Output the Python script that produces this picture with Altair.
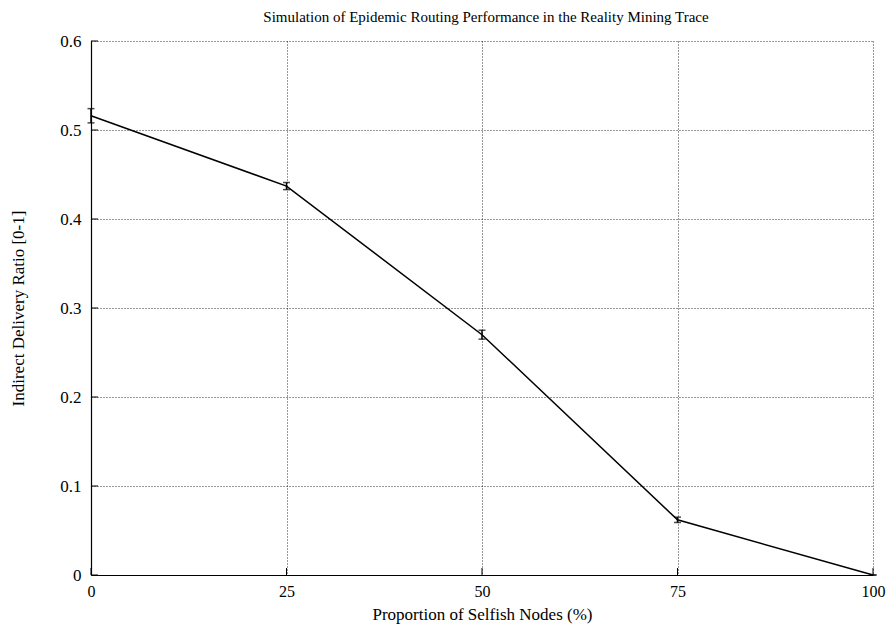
import altair as alt
import pandas as pd

selfish = [0, 25, 50, 75, 100]
ratio = [0.516, 0.437, 0.270, 0.062, 0.0]
err = [0.008, 0.004, 0.005, 0.003, 0.0]
title_text = ["Simulation of Epidemic Routing Performance in the Reality Mining Trace"]

df = pd.DataFrame({"x": selfish, "y": ratio, "e": err})
df["lo"] = df["y"] - df["e"]
df["hi"] = df["y"] + df["e"]

yticks = [0, 0.1, 0.2, 0.3, 0.4, 0.5, 0.6]
xticks = [0, 25, 50, 75, 100]

FONT = "Liberation Serif"
W, H = 782, 534

xs = alt.Scale(domain=[0, 100], nice=False)
ys = alt.Scale(domain=[0, 0.6], nice=False)

base = alt.Chart(df)

line = base.mark_line(color="black", strokeWidth=1.5).encode(
    x=alt.X("x:Q", scale=xs, axis=alt.Axis(
        values=xticks, title="Proportion of Selfish Nodes (%)", grid=True,
        gridDash=[1, 2], gridColor="#000", gridOpacity=0.8, ticks=False,
        labelPadding=8, titlePadding=7, domain=True, domainColor="black",
        domainWidth=1.2, labelFlush=False, labelFontSize=16)),
    y=alt.Y("y:Q", scale=ys, axis=alt.Axis(
        values=yticks, title="Indirect Delivery Ratio [0-1]", grid=True,
        gridDash=[1, 2], gridColor="#000", gridOpacity=0.8, ticks=False,
        labelExpr="datum.value == 0 ? '0' : format(datum.value, '.1f')",
        labelPadding=10, titlePadding=32, domain=True, domainColor="black",
        domainWidth=1.2, labelFlush=False)),
)

bars = base.mark_rule(color="black", strokeWidth=1.5).encode(
    x="x:Q", y="lo:Q", y2="hi:Q")
cap_lo = base.mark_tick(color="black", orient="horizontal", size=7, thickness=1.5).encode(
    x="x:Q", y="lo:Q")
cap_hi = base.mark_tick(color="black", orient="horizontal", size=7, thickness=1.5).encode(
    x="x:Q", y="hi:Q")

# inward tick marks
ytdf = pd.DataFrame({"t": yticks})
xtdf = pd.DataFrame({"t": xticks})
yt_left = alt.Chart(ytdf).mark_rule(color="black", strokeWidth=1).encode(
    y=alt.Y("t:Q", scale=ys), x=alt.value(0), x2=alt.value(7))
xt_bot = alt.Chart(xtdf).mark_rule(color="black", strokeWidth=1).encode(
    x=alt.X("t:Q", scale=xs), y=alt.value(H), y2=alt.value(H - 7))

title = alt.Chart(pd.DataFrame({"t": title_text})).mark_text(
    font=FONT, fontSize=15, color="black", baseline="middle", align="center"
).encode(text="t:N", x=alt.value(W / 2 + 4), y=alt.value(-24))

chart = alt.layer(line, bars, cap_lo, cap_hi, yt_left, xt_bot, title).properties(
    width=W, height=H,
    autosize=alt.AutoSizeParams(type="none"),
    padding={"left": 83, "top": 33, "right": 13, "bottom": 56},
).configure_axis(
    labelFont=FONT, titleFont=FONT, labelFontSize=17, titleFontSize=17,
    labelColor="black", titleColor="black", titleFontWeight="normal",
).configure_view(stroke=None)

chart.save("out.html", embed_options={"renderer": "svg", "actions": False})
